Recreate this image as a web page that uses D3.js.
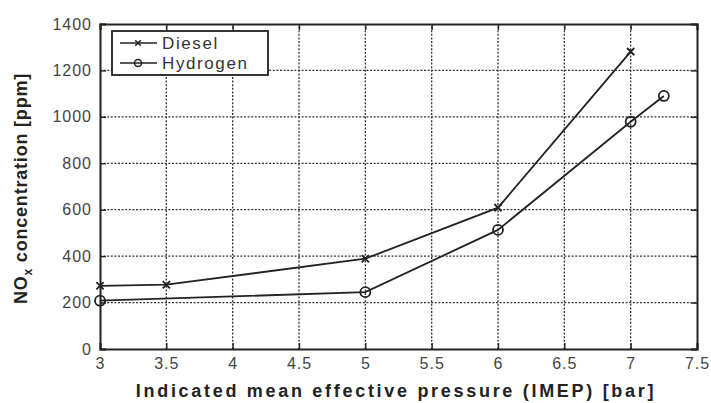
<!DOCTYPE html>
<html>
<head>
<meta charset="utf-8">
<script src="https://cdn.jsdelivr.net/npm/d3@7"></script>
<style>
  body { margin: 0; background: #fff; }
  text { font-family: "Liberation Sans", Arial, sans-serif; }
</style>
</head>
<body>
<svg id="chart"></svg>
<script>
const width = 711, height = 403
const margin = {top: 24, right: 14, bottom: 54, left: 100}

// data
const dieselX = [3, 3.5, 5, 6, 7]
const dieselY = [272, 277, 389, 609, 1281]
const hydrogenX = [3, 5, 6, 7, 7.25]
const hydrogenY = [208, 245, 513, 979, 1090]
const xTicks = [3, 3.5, 4, 4.5, 5, 5.5, 6, 6.5, 7, 7.5]
const yTicks = [0, 200, 400, 600, 800, 1000, 1200, 1400]
const seriesNames = ['Diesel', 'Hydrogen']

const svg = d3.select('#chart')
  .attr('width', width)
  .attr('height', height)

const x = d3.scaleLinear().domain([3, 7.5]).range([margin.left, width - margin.right])
const y = d3.scaleLinear().domain([0, 1400]).range([height - margin.bottom, margin.top])

const ink = '#222'

// dotted grid
const grid = svg.append('g').attr('stroke', '#333').attr('stroke-width', 1.3)
  .attr('stroke-dasharray', '2,1.6')
grid.selectAll('.gx').data(xTicks.slice(1, -1)).enter().append('line')
  .attr('x1', d => x(d)).attr('x2', d => x(d))
  .attr('y1', y(0)).attr('y2', y(1400))
grid.selectAll('.gy').data(yTicks.slice(1, -1)).enter().append('line')
  .attr('y1', d => y(d)).attr('y2', d => y(d))
  .attr('x1', x(3)).attr('x2', x(7.5))

// axes with inward ticks (bottom/left labelled, top/right bare)
const fmt = d3.format('')
svg.append('g').attr('transform', `translate(0,${y(0)})`)
  .call(d3.axisBottom(x).tickValues(xTicks).tickSize(-6).tickPadding(9).tickFormat(fmt))
svg.append('g').attr('transform', `translate(${x(3)},0)`)
  .call(d3.axisLeft(y).tickValues(yTicks).tickSize(-6).tickPadding(8).tickFormat(fmt))
svg.append('g').attr('transform', `translate(0,${y(1400)})`)
  .call(d3.axisTop(x).tickValues(xTicks).tickSize(-6).tickFormat(''))
svg.append('g').attr('transform', `translate(${x(7.5)},0)`)
  .call(d3.axisRight(y).tickValues(yTicks).tickSize(-6).tickFormat(''))

svg.selectAll('.domain').attr('stroke', ink).attr('stroke-width', 2)
svg.selectAll('.tick line').attr('stroke', ink).attr('stroke-width', 1.4)
svg.selectAll('.tick text').attr('fill', '#444')
  .style('font-size', '16px').style('letter-spacing', '1px')

// lines
const line = d3.line().x(d => x(d[0])).y(d => y(d[1]))
const diesel = d3.zip(dieselX, dieselY)
const hydrogen = d3.zip(hydrogenX, hydrogenY)

svg.append('path').datum(diesel).attr('d', line)
  .attr('fill', 'none').attr('stroke', ink).attr('stroke-width', 1.8)
svg.append('path').datum(hydrogen).attr('d', line)
  .attr('fill', 'none').attr('stroke', ink).attr('stroke-width', 1.8)

const cross = d3.symbol().type(d3.symbolX).size(36)
svg.selectAll('.mx').data(diesel).enter().append('path')
  .attr('transform', d => `translate(${x(d[0])},${y(d[1])})`)
  .attr('d', cross).attr('fill', 'none').attr('stroke', ink).attr('stroke-width', 1.8)
svg.selectAll('.mo').data(hydrogen).enter().append('circle')
  .attr('cx', d => x(d[0])).attr('cy', d => y(d[1])).attr('r', 5)
  .attr('fill', 'none').attr('stroke', ink).attr('stroke-width', 1.8)

// legend
const lg = svg.append('g').attr('transform', 'translate(112,31)')
lg.append('rect').attr('width', 156).attr('height', 44)
  .attr('fill', '#fff').attr('stroke', ink).attr('stroke-width', 1.8)
seriesNames.forEach((name, i) => {
  const ly = 12 + i * 20
  lg.append('line').attr('x1', 8).attr('x2', 45).attr('y1', ly).attr('y2', ly)
    .attr('stroke', ink).attr('stroke-width', 1.5)
  if (i === 0) {
    lg.append('path').attr('transform', `translate(26,${ly})`)
      .attr('d', d3.symbol().type(d3.symbolX).size(22)).attr('fill', 'none')
      .attr('stroke', ink).attr('stroke-width', 1.5)
  } else {
    lg.append('circle').attr('cx', 26).attr('cy', ly).attr('r', 3.5)
      .attr('fill', 'none').attr('stroke', ink).attr('stroke-width', 1.5)
  }
  lg.append('text').attr('x', 50).attr('y', ly + 6).text(name)
    .attr('fill', '#333').style('font-size', '17px').style('letter-spacing', '1.6px')
})

// axis titles
svg.append('text')
  .attr('x', 396).attr('y', 397)
  .attr('text-anchor', 'middle')
  .style('font-size', '18px').style('font-weight', 'bold').style('letter-spacing', '2.7px')
  .attr('fill', '#222')
  .text('Indicated mean effective pressure (IMEP) [bar]')

const yt = svg.append('text')
  .attr('transform', `translate(27,${(y(0) + y(1400)) / 2 + 2}) rotate(-90)`)
  .attr('text-anchor', 'middle')
  .style('font-size', '18px').style('font-weight', 'bold').style('letter-spacing', '0.8px')
  .attr('fill', '#222')
yt.append('tspan').text('NO')
yt.append('tspan').text('x').attr('dy', 5).style('font-size', '12px')
yt.append('tspan').text(' concentration [ppm]').attr('dy', -5)
</script>
</body>
</html>
